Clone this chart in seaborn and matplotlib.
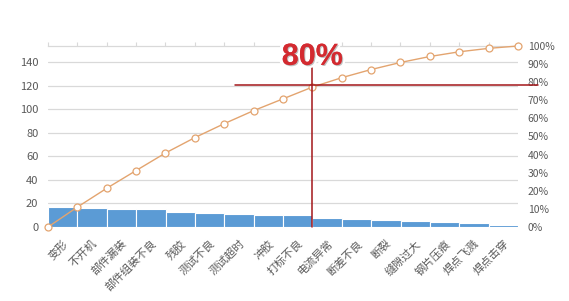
import matplotlib
matplotlib.use("Agg")
import matplotlib.pyplot as plt
import matplotlib.patheffects as pe
import seaborn as sns
import pandas as pd

# ---- data ----
categories = ["变形", "不开机", "部件漏装", "部件组装不良", "残胶", "测试不良", "测试超时", "冲胶",
              "打标不良", "电流异常", "断差不良", "断裂", "缝隙过大", "钢片压痕", "焊点飞溅", "焊点击穿"]
counts = [17, 16, 15, 15, 13, 12, 11, 10, 10, 8, 7, 6, 5, 4, 3, 2]
cum_pct = [0, 11.0, 21.4, 31.2, 40.9, 49.4, 57.1, 64.3, 70.8, 77.3, 82.5, 87.0, 90.9, 94.2, 96.8, 98.7, 100]
left_ticks = [0, 20, 40, 60, 80, 100, 120, 140]
left_max = 154
right_ticks = [0, 10, 20, 30, 40, 50, 60, 70, 80, 90, 100]
cut_label = "80%"
cut_level = 78.3      # % level of the red horizontal marker
cut_point = 9         # index of cumulative point where the marker is drawn

sns.set_theme(style="white")
plt.rcParams["font.family"] = ["Noto Sans CJK SC", "DejaVu Sans"]

W, H = 569, 301
fig = plt.figure(figsize=(W / 100, H / 100), dpi=100)
ax = fig.add_axes([48 / W, 1 - 227 / H, 470 / W, 181 / H])

bar_df = pd.DataFrame({"cat": categories, "n": counts})
sns.barplot(data=bar_df, x="cat", y="n", color="#5B9BD5", saturation=1, width=1.0,
            edgecolor="white", linewidth=0.8, ax=ax, zorder=2)
ax.set_xlim(-0.5, len(categories) - 0.5)
ax.set_ylim(0, left_max)
ax.set_yticks(left_ticks)
ax.set_xlabel("")
ax.set_ylabel("")
ax.grid(axis="y", color="#D9D9D9", linewidth=0.9, zorder=0)
ax.set_axisbelow(True)
for s in ["left", "right", "bottom"]:
    ax.spines[s].set_visible(False)
ax.spines["top"].set_color("#D9D9D9")
ax.spines["top"].set_linewidth(0.9)
ax.tick_params(axis="y", length=0, labelsize=8, labelcolor="#595959", pad=7)
ax.tick_params(axis="x", length=0, labelsize=8, labelcolor="#595959", pad=8)
ax.set_xticks(range(len(categories)))
ax.set_xticklabels(categories, rotation=45, ha="right", rotation_mode="anchor")

top = ax.secondary_xaxis("top")
top.set_xticks([i - 0.5 for i in range(len(categories) + 1)])
top.set_xticklabels([])
top.tick_params(axis="x", length=3, width=0.8, color="#D9D9D9", direction="out")
top.spines["top"].set_visible(False)

ax2 = ax.twinx()
line_df = pd.DataFrame({"x": [i - 0.5 for i in range(len(cum_pct))], "p": cum_pct})
sns.lineplot(data=line_df, x="x", y="p", ax=ax2, color="#E3A46F", linewidth=1.0,
             marker="o", markersize=5, markerfacecolor="white",
             markeredgecolor="#E3A46F", markeredgewidth=0.9, zorder=3, clip_on=False)
ax2.set_ylim(0, 100)
ax2.set_yticks(right_ticks)
ax2.set_yticklabels([f"{t}%" for t in right_ticks])
ax2.set_ylabel("")
ax2.set_xlabel("")
ax2.set_xlim(-0.5, len(categories) - 0.5)
for s in ["left", "right", "bottom", "top"]:
    ax2.spines[s].set_visible(False)
ax2.tick_params(axis="y", length=0, labelsize=7.5, labelcolor="#595959", pad=7)

# 80% marker lines
xc = cut_point - 0.5
ax2.plot([6.36 - 0.5, 16.67 - 0.5], [cut_level, cut_level], color="#A3161A",
         linewidth=1.1, clip_on=False, zorder=5)
ax2.plot([xc, xc], [0, 88], color="#A3161A", linewidth=1.1, clip_on=False, zorder=5)
t = ax2.text(xc, 94, cut_label, ha="center", va="center", fontsize=22,
             fontweight="bold", color="#D42A30", family=["Liberation Sans", "DejaVu Sans"],
             zorder=6, clip_on=False)
t.set_path_effects([pe.withStroke(linewidth=5, foreground="white"),
                    pe.SimplePatchShadow(offset=(0.8, -0.8), shadow_rgbFace="#999999", alpha=0.6),
                    pe.Normal()])

fig.savefig("out.png", dpi=100)
